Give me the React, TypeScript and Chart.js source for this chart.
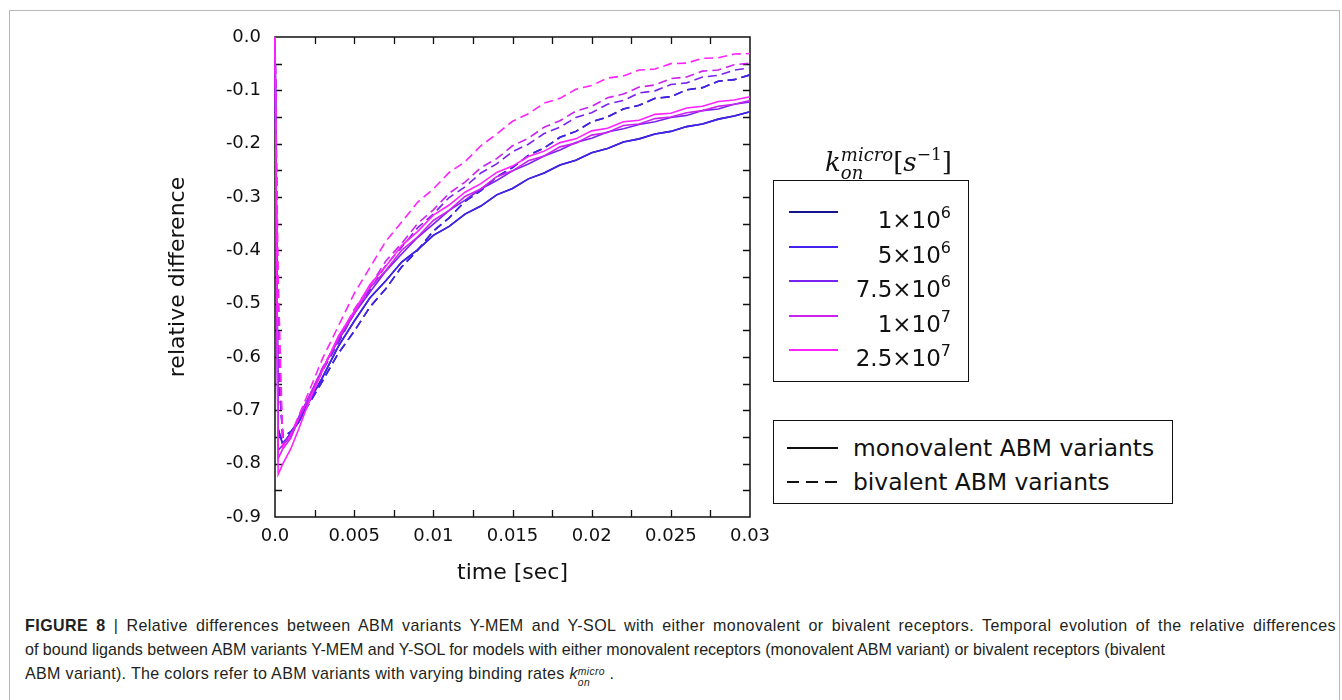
import React, { useEffect, useLayoutEffect, useRef } from 'react';
import { Chart, registerables } from 'chart.js';

Chart.register(...registerables);

// ---------- data ----------
const timeSec = [
  0, 0.0002, 0.0005, 0.001, 0.0015, 0.002, 0.003, 0.004, 0.005, 0.006, 0.007, 0.008,
  0.009, 0.01, 0.011, 0.012, 0.013, 0.014, 0.015, 0.016, 0.017, 0.018, 0.019, 0.02,
  0.021, 0.022, 0.023, 0.024, 0.025, 0.026, 0.027, 0.028, 0.029, 0.03,
];

const kMantissa = ['1', '5', '7.5', '1', '2.5'];
const kExponent = ['6', '6', '6', '7', '7'];
const kColors = ['#14148c', '#4422ee', '#7a22f0', '#cc22ee', '#ff22ff'];

// monovalent ABM variants (solid); 1e6 lies under 5e6 in the figure
const mono1e6 = [0, -0.735, -0.765, -0.742, -0.722, -0.692, -0.638, -0.58, -0.533, -0.489, -0.457, -0.422, -0.399, -0.372, -0.355, -0.332, -0.317, -0.296, -0.284, -0.266, -0.255, -0.24, -0.231, -0.217, -0.209, -0.197, -0.191, -0.182, -0.177, -0.168, -0.163, -0.154, -0.148, -0.14];
const mono5e6 = [0, -0.735, -0.765, -0.742, -0.722, -0.692, -0.638, -0.58, -0.533, -0.489, -0.457, -0.422, -0.399, -0.372, -0.355, -0.332, -0.317, -0.296, -0.284, -0.266, -0.255, -0.24, -0.231, -0.217, -0.209, -0.197, -0.191, -0.182, -0.177, -0.168, -0.163, -0.154, -0.148, -0.14];
const mono75e6 = [0, -0.775, -0.765, -0.748, -0.712, -0.683, -0.622, -0.569, -0.519, -0.478, -0.439, -0.407, -0.376, -0.351, -0.325, -0.306, -0.285, -0.269, -0.251, -0.238, -0.223, -0.212, -0.198, -0.19, -0.178, -0.172, -0.164, -0.159, -0.151, -0.147, -0.138, -0.135, -0.126, -0.122];
const mono1e7 = [0, -0.79, -0.772, -0.752, -0.716, -0.686, -0.624, -0.565, -0.519, -0.47, -0.438, -0.4, -0.375, -0.344, -0.325, -0.299, -0.285, -0.262, -0.251, -0.232, -0.223, -0.206, -0.199, -0.184, -0.179, -0.166, -0.163, -0.153, -0.15, -0.142, -0.138, -0.13, -0.126, -0.119];
const mono25e7 = [0, -0.82, -0.8, -0.772, -0.735, -0.695, -0.625, -0.561, -0.514, -0.464, -0.43, -0.391, -0.365, -0.334, -0.315, -0.291, -0.275, -0.254, -0.242, -0.224, -0.214, -0.198, -0.191, -0.176, -0.171, -0.159, -0.156, -0.145, -0.143, -0.133, -0.13, -0.121, -0.118, -0.112];

// bivalent ABM variants (dashed); 1e6 lies under 5e6 in the figure
const bi1e6 = [0, -0.62, -0.75, -0.74, -0.72, -0.695, -0.645, -0.593, -0.552, -0.506, -0.472, -0.431, -0.4, -0.364, -0.339, -0.308, -0.288, -0.262, -0.245, -0.222, -0.208, -0.188, -0.177, -0.159, -0.15, -0.135, -0.128, -0.115, -0.112, -0.099, -0.095, -0.083, -0.08, -0.071];
const bi5e6 = [0, -0.62, -0.75, -0.74, -0.72, -0.695, -0.645, -0.593, -0.552, -0.506, -0.472, -0.431, -0.4, -0.364, -0.339, -0.308, -0.288, -0.262, -0.245, -0.222, -0.208, -0.188, -0.177, -0.159, -0.15, -0.135, -0.128, -0.115, -0.112, -0.099, -0.095, -0.083, -0.08, -0.071];
const bi75e6 = [0, -0.6, -0.76, -0.745, -0.718, -0.688, -0.626, -0.574, -0.518, -0.474, -0.428, -0.394, -0.358, -0.332, -0.301, -0.281, -0.255, -0.238, -0.215, -0.201, -0.181, -0.169, -0.151, -0.142, -0.126, -0.119, -0.105, -0.101, -0.089, -0.086, -0.075, -0.072, -0.062, -0.058];
const bi1e7 = [0, -0.55, -0.765, -0.745, -0.715, -0.685, -0.62, -0.567, -0.511, -0.467, -0.42, -0.387, -0.35, -0.324, -0.293, -0.272, -0.245, -0.228, -0.204, -0.19, -0.169, -0.157, -0.139, -0.13, -0.114, -0.107, -0.094, -0.09, -0.078, -0.075, -0.064, -0.062, -0.052, -0.049];
const bi25e7 = [0, -0.45, -0.77, -0.745, -0.71, -0.675, -0.603, -0.542, -0.481, -0.432, -0.383, -0.347, -0.31, -0.285, -0.254, -0.234, -0.204, -0.182, -0.158, -0.144, -0.124, -0.115, -0.098, -0.091, -0.077, -0.073, -0.062, -0.06, -0.05, -0.049, -0.04, -0.039, -0.032, -0.031];

const xTickLabels = ['0.0', '0.005', '0.01', '0.015', '0.02', '0.025', '0.03'];
const yTickLabels = ['0.0', '-0.1', '-0.2', '-0.3', '-0.4', '-0.5', '-0.6', '-0.7', '-0.8', '-0.9'];
const styleLabels = ['monovalent ABM variants', 'bivalent ABM variants'];

const monoSeries = [mono1e6, mono5e6, mono75e6, mono1e7, mono25e7];
const biSeries = [bi1e6, bi5e6, bi75e6, bi1e7, bi25e7];

const FONT = "'DejaVu Sans', sans-serif";

// frame with inward ticks, drawn before the lines
const framePlugin = {
  id: 'frameTicks',
  beforeDatasetsDraw(chart: any) {
    const { ctx, chartArea, scales } = chart;
    const { left, right, top, bottom } = chartArea;
    const xs = scales.x;
    const ys = scales.y;
    ctx.save();
    ctx.strokeStyle = '#111';
    ctx.lineWidth = 1.5;
    ctx.strokeRect(left, top, right - left, bottom - top);
    ctx.lineWidth = 1.3;
    ctx.beginPath();
    const xStep = 0.0025;
    for (let i = 1; i < Math.round((xs.max - xs.min) / xStep); i++) {
      const px = Math.round(xs.getPixelForValue(xs.min + i * xStep)) + 0.5;
      ctx.moveTo(px, bottom);
      ctx.lineTo(px, bottom - 7);
      ctx.moveTo(px, top);
      ctx.lineTo(px, top + 7);
    }
    const yStep = 0.05;
    for (let i = 1; i < Math.round((ys.max - ys.min) / yStep); i++) {
      const py = Math.round(ys.getPixelForValue(ys.max - i * yStep)) + 0.5;
      ctx.moveTo(left, py);
      ctx.lineTo(left + 7, py);
      ctx.moveTo(right, py);
      ctx.lineTo(right - 7, py);
    }
    ctx.stroke();
    ctx.restore();
  },
};

function ChartCanvas() {
  const ref = useRef<HTMLCanvasElement>(null);
  useEffect(() => {
    if (!ref.current) return;
    const datasets: any[] = [];
    monoSeries.forEach((s, i) => {
      datasets.push({
        label: `mono ${kMantissa[i]}e${kExponent[i]}`,
        data: timeSec.map((t, j) => ({ x: t, y: s[j] })),
        borderColor: kColors[i],
        borderWidth: 1.6,
        pointRadius: 0,
        fill: false,
        tension: 0,
        clip: 4,
        order: 20 - i * 2,
      });
    });
    biSeries.forEach((s, i) => {
      datasets.push({
        label: `bi ${kMantissa[i]}e${kExponent[i]}`,
        data: timeSec.map((t, j) => ({ x: t, y: s[j] })),
        borderColor: kColors[i],
        borderWidth: 1.6,
        borderDash: [9, 5],
        pointRadius: 0,
        fill: false,
        tension: 0,
        clip: 4,
        order: 19 - i * 2,
      });
    });
    const chart = new Chart(ref.current, {
      type: 'line',
      data: { datasets },
      options: {
        responsive: false,
        animation: false,
        devicePixelRatio: 1,
        layout: { padding: { top: 17, right: 40, left: 0, bottom: 0 } },
        plugins: { legend: { display: false }, tooltip: { enabled: false } },
        scales: {
          x: {
            type: 'linear',
            min: 0,
            max: 0.03,
            grid: { display: false, drawTicks: false },
            border: { display: false },
            ticks: {
              stepSize: 0.005,
              padding: 9,
              maxRotation: 0,
              autoSkip: false,
              color: '#111',
              font: { family: FONT, size: 18 },
              callback: (v: any) => xTickLabels[Math.round(Number(v) / 0.005)] ?? '',
            },
            title: {
              display: true,
              text: 'time [sec]',
              color: '#111',
              font: { family: FONT, size: 22 },
              padding: { top: 0, bottom: 14 },
            },
            afterFit: (s: any) => {
              s.height = 83;
              s.paddingLeft = 0;
              s.paddingRight = 0;
            },
          },
          y: {
            type: 'linear',
            min: -0.9,
            max: 0,
            grid: { display: false, drawTicks: false },
            border: { display: false },
            ticks: {
              stepSize: 0.1,
              padding: 14,
              color: '#111',
              font: { family: FONT, size: 18 },
              callback: (v: any) => yTickLabels[Math.round(-Number(v) / 0.1)] ?? '',
            },
            title: {
              display: true,
              text: 'relative difference',
              color: '#111',
              font: { family: FONT, size: 22 },
              padding: { top: 35, bottom: 0 },
            },
            afterFit: (s: any) => {
              s.width = 145;
              s.paddingTop = 0;
              s.paddingBottom = 0;
            },
          },
        },
      } as any,
      plugins: [framePlugin],
    });
    return () => chart.destroy();
  }, []);
  return (
    <canvas
      ref={ref}
      width={660}
      height={580}
      style={{ position: 'absolute', left: 130, top: 20, width: 660, height: 580 }}
    />
  );
}

function StackedScripts({ sup, sub, size, shift }: { sup: string; sub: string; size: number; shift: number }) {
  return (
    <span
      style={{
        display: 'inline-block',
        verticalAlign: shift,
        fontSize: size,
        lineHeight: `${size}px`,
        fontStyle: 'italic',
        textAlign: 'left',
      }}
    >
      <span style={{ display: 'block' }}>{sup}</span>
      <span style={{ display: 'block' }}>{sub}</span>
    </span>
  );
}

function Caption() {
  const wrapRef = useRef<HTMLDivElement>(null);
  const l1Ref = useRef<HTMLSpanElement>(null);
  const l2Ref = useRef<HTMLSpanElement>(null);
  const l3Ref = useRef<HTMLSpanElement>(null);
  useLayoutEffect(() => {
    const wrap = wrapRef.current;
    const l1 = l1Ref.current;
    const l2 = l2Ref.current;
    const l3 = l3Ref.current;
    if (!wrap || !l1 || !l2 || !l3) return;
    // measure natural (unscaled) widths first
    wrap.style.transform = 'none';
    l1.style.letterSpacing = '0px';
    l1.style.wordSpacing = '0px';
    l3.style.letterSpacing = '0px';
    const w1 = l1.getBoundingClientRect().width;
    const w2 = l2.getBoundingClientRect().width;
    const w3 = l3.getBoundingClientRect().width;
    const s = w2 > 0 ? 1140 / w2 : 1;
    const t1 = l1.textContent || '';
    const t3 = l3.textContent || '';
    const extra1 = 1311 / s - w1;
    if (extra1 > 0) {
      const sp1 = (t1.match(/ /g) || []).length;
      l1.style.letterSpacing = `${(extra1 * 0.5) / t1.length}px`;
      l1.style.wordSpacing = `${(extra1 * 0.5) / Math.max(sp1, 1)}px`;
    }
    const extra3 = 590 / s - w3;
    l3.style.letterSpacing = `${extra3 / t3.length}px`;
    wrap.style.transform = `scaleX(${s})`;
  }, []);
  return (
    <div
      ref={wrapRef}
      style={{
        position: 'absolute',
        left: 25,
        top: 614,
        transformOrigin: '0 0',
        fontFamily: "'Liberation Sans', Arial, sans-serif",
        fontSize: 17,
        lineHeight: '24px',
        color: '#231f20',
        whiteSpace: 'nowrap',
      }}
    >
      <div>
        <span ref={l1Ref}>
          <b>FIGURE 8</b> | Relative differences between ABM variants Y-MEM and Y-SOL with either monovalent or
          bivalent receptors. Temporal evolution of the relative differences
        </span>
      </div>
      <div>
        <span ref={l2Ref}>
          of bound ligands between ABM variants Y-MEM and Y-SOL for models with either monovalent receptors
          (monovalent ABM variant) or bivalent receptors (bivalent
        </span>
      </div>
      <div>
        <span ref={l3Ref}>
          ABM variant). The colors refer to ABM variants with varying binding rates <i>k</i>
          <StackedScripts sup="micro" sub="on" size={11} shift={-7} /> .
        </span>
      </div>
    </div>
  );
}

export default function App() {
  const rowY = [212, 246.5, 281, 315.5, 350];
  const styleRowY = [448, 482];
  return (
    <div
      style={{
        position: 'absolute',
        left: 0,
        top: 0,
        width: 1342,
        height: 700,
        overflow: 'hidden',
        background: '#fff',
        fontFamily: FONT,
        color: '#111',
      }}
    >
      {/* figure frame */}
      <div
        style={{
          position: 'absolute',
          left: 9,
          top: 10,
          width: 1331,
          height: 720,
          border: '1.5px solid #b8b8b8',
          boxSizing: 'border-box',
        }}
      />
      <ChartCanvas />

      {/* colour legend box */}
      <div
        style={{
          position: 'absolute',
          left: 773,
          top: 180,
          width: 196,
          height: 202,
          border: '1.5px solid #111',
          boxSizing: 'border-box',
          background: '#fff',
        }}
      />

      {/* colour legend title */}
      <div
        style={{
          position: 'absolute',
          left: 773,
          top: 133,
          width: 195,
          textAlign: 'center',
          fontFamily: "'DejaVu Serif', serif",
          fontSize: 26,
          lineHeight: '42px',
          whiteSpace: 'nowrap',
        }}
      >
        <span style={{ marginLeft: 36 }}>
          <i>k</i>
          <StackedScripts sup="micro" sub="on" size={18} shift={-8} />
          <span>[</span>
          <i>s</i>
          <span style={{ fontSize: 17, verticalAlign: 11 }}>−1</span>
          <span>]</span>
        </span>
      </div>

      {kMantissa.map((m, i) => (
        <React.Fragment key={i}>
          <svg
            style={{ position: 'absolute', left: 789, top: rowY[i] - 3, overflow: 'visible' }}
            width={50}
            height={6}
          >
            <line x1={0} y1={3} x2={49} y2={3} stroke={kColors[i]} strokeWidth={2.2} />
          </svg>
          <div
            style={{
              position: 'absolute',
              left: 840,
              width: 111,
              top: rowY[i] - 14,
              textAlign: 'right',
              fontSize: 23,
              lineHeight: '30px',
              whiteSpace: 'nowrap',
            }}
          >
            {m}×10
            <span style={{ fontSize: 16, verticalAlign: 10 }}>{kExponent[i]}</span>
          </div>
        </React.Fragment>
      ))}

      {/* line-style legend box */}
      <div
        style={{
          position: 'absolute',
          left: 773,
          top: 420,
          width: 400,
          height: 84,
          border: '1.5px solid #111',
          boxSizing: 'border-box',
          background: '#fff',
        }}
      />
      {styleLabels.map((s, i) => (
        <React.Fragment key={s}>
          <svg
            style={{ position: 'absolute', left: 787, top: styleRowY[i] - 3, overflow: 'visible' }}
            width={52}
            height={6}
          >
            <line
              x1={0}
              y1={3}
              x2={51}
              y2={3}
              stroke="#111"
              strokeWidth={2.2}
              strokeDasharray={i === 1 ? '12 7' : undefined}
            />
          </svg>
          <div
            style={{
              position: 'absolute',
              left: 853,
              top: styleRowY[i] - 15,
              fontSize: 23.4,
              lineHeight: '30px',
              whiteSpace: 'nowrap',
            }}
          >
            {s}
          </div>
        </React.Fragment>
      ))}

      <Caption />
    </div>
  );
}
